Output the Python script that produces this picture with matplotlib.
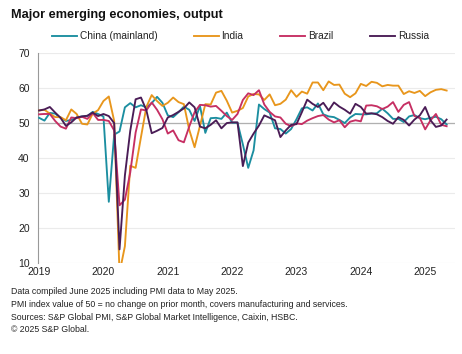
import matplotlib
matplotlib.use("Agg")
import matplotlib.pyplot as plt
import numpy as np
import pandas as pd

plt.rcParams['font.family'] = ['Liberation Sans', 'DejaVu Sans']

dates = pd.date_range("2019-01-01", "2025-05-01", freq="MS")

china = [51.5, 50.7, 52.9, 52.7, 51.5, 50.6, 50.9, 51.6, 51.9, 52.0, 53.2, 52.6,
         51.9, 27.5, 46.7, 47.6, 54.5, 55.7, 54.5, 55.1, 54.5, 55.7, 57.5, 55.8,
         52.2, 51.7, 53.1, 54.7, 53.8, 50.6, 54.9, 47.2, 51.4, 51.5, 51.2, 53.0,
         50.1, 50.1, 43.9, 37.2, 42.2, 55.3, 54.0, 53.0, 48.5, 48.3, 47.0, 48.3,
         51.1, 54.2, 54.5, 53.6, 55.6, 52.5, 51.9, 51.7, 50.9, 50.0, 51.6, 52.6,
         52.5, 52.5, 52.7, 52.8, 54.1, 52.8, 51.2, 51.2, 50.3, 51.9, 52.3, 51.4,
         51.1, 51.5, 51.8, 51.1, 49.6]

india = [53.6, 53.8, 52.7, 51.7, 51.7, 50.8, 53.9, 52.6, 49.8, 49.6, 52.7, 53.7,
         56.3, 57.6, 50.6, 7.2, 14.8, 37.8, 37.2, 46.0, 54.6, 58.0, 56.3, 54.9,
         55.8, 57.3, 56.0, 55.4, 48.1, 43.1, 49.2, 55.4, 55.3, 58.7, 59.2, 56.4,
         53.0, 53.5, 54.3, 57.6, 58.3, 58.2, 56.6, 58.2, 55.1, 55.5, 56.7, 59.4,
         57.5, 59.0, 58.4, 61.6, 61.6, 59.4, 61.9, 60.9, 61.0, 58.4, 57.4, 58.5,
         61.2, 60.6, 61.8, 61.5, 60.5, 60.9, 60.7, 60.7, 58.3, 59.1, 58.6, 59.2,
         57.7, 58.8, 59.5, 59.7, 59.3]

brazil = [52.5, 52.6, 52.6, 50.6, 49.0, 48.4, 51.6, 51.4, 51.8, 51.2, 52.9, 50.9,
          50.9, 50.6, 47.9, 26.5, 28.1, 35.9, 47.3, 53.9, 53.6, 55.9, 53.8, 51.1,
          47.0, 47.9, 45.1, 44.5, 49.0, 53.1, 55.2, 55.1, 54.7, 54.9, 53.5, 52.0,
          50.9, 52.6, 56.6, 58.5, 58.0, 59.4, 55.3, 53.2, 51.9, 51.6, 49.8, 49.1,
          49.9, 49.7, 50.7, 51.4, 52.0, 52.3, 51.0, 50.2, 50.8, 48.8, 50.4, 50.8,
          50.5, 55.0, 55.1, 54.8, 54.0, 54.7, 56.0, 53.2, 55.2, 56.0, 52.0, 51.5,
          48.2, 50.8, 52.6, 49.5, 49.1]

russia = [53.6, 53.9, 54.6, 53.0, 51.5, 49.2, 50.2, 51.6, 51.9, 52.1, 53.0, 52.0,
          52.6, 52.0, 50.0, 13.9, 35.0, 47.8, 56.8, 57.3, 53.7, 47.1, 47.8, 48.6,
          51.6, 52.3, 53.2, 54.2, 55.9, 54.5, 49.0, 48.5, 49.5, 50.8, 48.5, 50.0,
          50.2, 50.2, 37.7, 44.4, 47.0, 49.3, 52.2, 51.5, 50.8, 46.0, 47.9, 49.5,
          49.7, 53.1, 56.7, 55.5, 54.6, 55.8, 53.6, 55.9, 54.7, 53.8, 52.7, 55.5,
          54.6, 52.7, 52.8, 52.5, 51.7, 50.6, 49.8, 51.7, 50.9, 49.3, 51.0, 52.2,
          54.6, 50.8, 48.9, 49.3, 51.0]

series_names = ["China (mainland)", "India", "Brazil", "Russia"]
colors = ["#1b8ea0", "#e8961c", "#c62f63", "#4a1c56"]

years = list(range(2019, 2026))
yticks = [10, 20, 30, 40, 50, 60, 70]

fig = plt.figure(figsize=(4.62, 3.54), dpi=100)
ax = fig.add_axes([0.0823, 0.257, 0.903, 0.593])

x = np.arange(len(dates))
for vals, name, c in zip([china, india, brazil, russia], series_names, colors):
    ax.plot(x, vals, color=c, lw=1.35, label=name, zorder=3)

ax.set_ylim(10, 70)
ax.set_xlim(-0.2, 77.6)
ax.set_yticks(yticks)
ax.set_yticklabels([str(v) for v in yticks])
xt = [(y - 2019) * 12 for y in years]
ax.set_xticks(xt)
ax.set_xticklabels([str(y) for y in years])

for v in yticks:
    ax.axhline(v, color="#ebebeb", lw=0.8, zorder=1)
ax.axhline(50, color="#b0b0b0", lw=0.9, zorder=2)

for s in ["top", "right", "bottom"]:
    ax.spines[s].set_visible(False)
ax.spines["left"].set_color("#999999")
ax.spines["left"].set_linewidth(0.8)
ax.tick_params(axis="both", length=0, labelsize=7.5, colors="#222222")
ax.tick_params(axis="y", pad=6)
ax.tick_params(axis="x", pad=3)

fig.text(0.024, 0.958, "Major emerging economies, output", fontsize=9.2, fontweight="bold",
         color="#111111", va="center", ha="left")

leg = fig.legend(loc="center", bbox_to_anchor=(0.52, 0.898), ncol=4, frameon=False,
                 fontsize=7.3, handlelength=2.5, handletextpad=0.25, columnspacing=3.6,
                 labelcolor="#222222")

notes = ["Data compiled June 2025 including PMI data to May 2025.",
         "PMI index value of 50 = no change on prior month, covers manufacturing and services.",
         "Sources: S&P Global PMI, S&P Global Market Intelligence, Caixin, HSBC.",
         "\u00a9 2025 S&P Global."]
for i, t in enumerate(notes):
    fig.text(0.024, 1 - (292 + i * 12.6) / 354, t, fontsize=6.35, color="#222222",
             va="center", ha="left")

fig.savefig("out.png", dpi=100)
